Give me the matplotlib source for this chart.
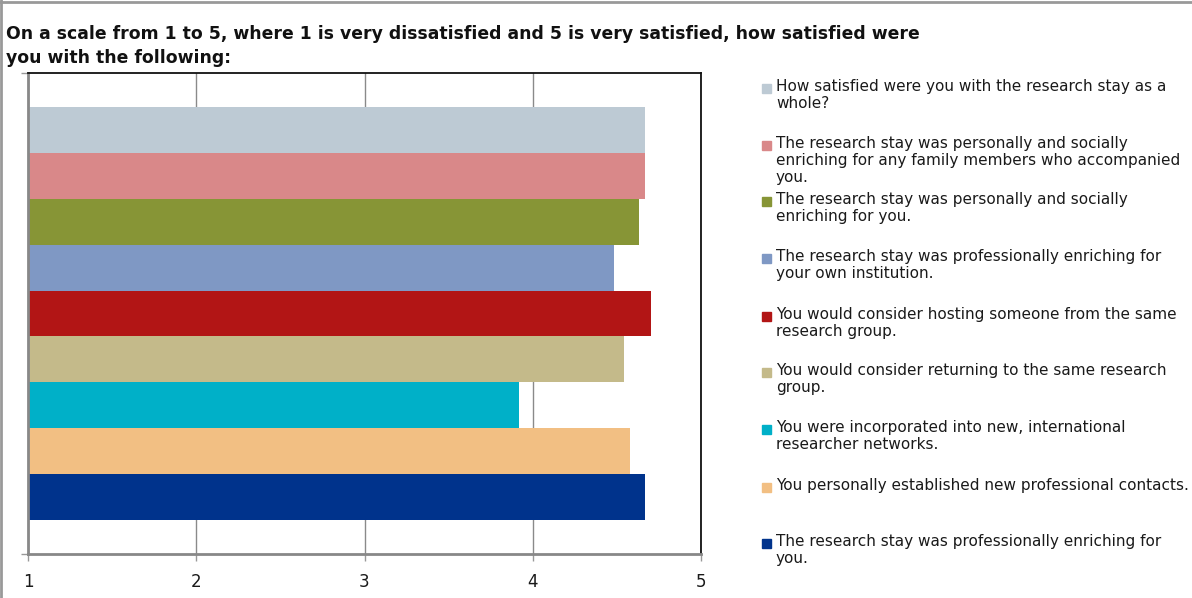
import matplotlib.pyplot as plt
from matplotlib.patches import Rectangle
from matplotlib.lines import Line2D

# survey items, top to bottom as drawn
items = [
    "How satisfied were you with the research stay as a\nwhole?",
    "The research stay was personally and socially\nenriching for any family members who accompanied\nyou.",
    "The research stay was personally and socially\nenriching for you.",
    "The research stay was professionally enriching for\nyour own institution.",
    "You would consider hosting someone from the same\nresearch group.",
    "You would consider returning to the same research\ngroup.",
    "You were incorporated into new, international\nresearcher networks.",
    "You personally established new professional contacts.",
    "The research stay was professionally enriching for\nyou.",
]
mean_scores = [4.67, 4.67, 4.63, 4.48, 4.70, 4.54, 3.92, 4.58, 4.67]
colors = ["#BDCAD4", "#D98889", "#879536", "#7F98C4", "#B21515",
          "#C4BA8A", "#00B0C8", "#F2BF83", "#00338C"]
x_ticks = [1, 2, 3, 4, 5]

W, H = 1192, 598
fig = plt.figure(figsize=(W / 100, H / 100), dpi=100)
plt.rcParams['font.family'] = 'DejaVu Sans'

ax = fig.add_axes([28 / W, (H - 554) / H, (701 - 28) / W, (554 - 73) / H])

n = len(items)
ypos = [n - 1 - i for i in range(n)]
ax.barh(ypos, [v - 1 for v in mean_scores], left=1, height=1.0,
        color=colors, edgecolor='none', zorder=2)

ax.set_xlim(1, 5)
ax.set_ylim(-1.23, n - 1 + 1.23)
ax.set_xticks(x_ticks)
ax.set_xticklabels([str(t) for t in x_ticks], fontsize=12, color='#1a1a1a')
ax.tick_params(axis='x', length=5, width=1, color='#999999', pad=8.5)
ax.set_yticks([-1.23, n - 1 + 1.23])
ax.set_yticklabels([])
ax.tick_params(axis='y', length=5, width=1, color='#999999')
ax.grid(axis='x', color='#8a8a8a', linewidth=1, zorder=0)

ax.spines['left'].set_color('#888888')
ax.spines['left'].set_linewidth(2)
ax.spines['bottom'].set_color('#888888')
ax.spines['bottom'].set_linewidth(2)
ax.spines['top'].set_color('#111111')
ax.spines['top'].set_linewidth(1.3)
ax.spines['right'].set_color('#111111')
ax.spines['right'].set_linewidth(1.3)

fig.text(6 / W, 1 - 46 / H,
         "On a scale from 1 to 5, where 1 is very dissatisfied and 5 is very satisfied, how satisfied were\nyou with the following:",
         fontsize=12.4, fontweight='bold', va='center', ha='left',
         linespacing=1.38, color='#111111')

# legend entries, one square and wrapped text each
legend_tops = [88, 145, 201, 258, 316, 372, 429, 487, 543]
for text, col, ty in zip(items, colors, legend_tops):
    fig.patches.append(Rectangle((762 / W, 1 - (ty + 5) / H), 9 / W, 9 / H,
                                 transform=fig.transFigure, color=col))
    fig.text(776 / W, 1 - (ty - 9) / H, text, fontsize=11, va='top',
             ha='left', linespacing=1.16, color='#1a1a1a')

# outer chart frame
fig.add_artist(Line2D([0, 1], [1 - 2 / H, 1 - 2 / H], transform=fig.transFigure,
                      color='#999999', linewidth=2))
fig.add_artist(Line2D([1 / W, 1 / W], [0, 1], transform=fig.transFigure,
                      color='#999999', linewidth=2))

fig.savefig('out.png', dpi=100)
